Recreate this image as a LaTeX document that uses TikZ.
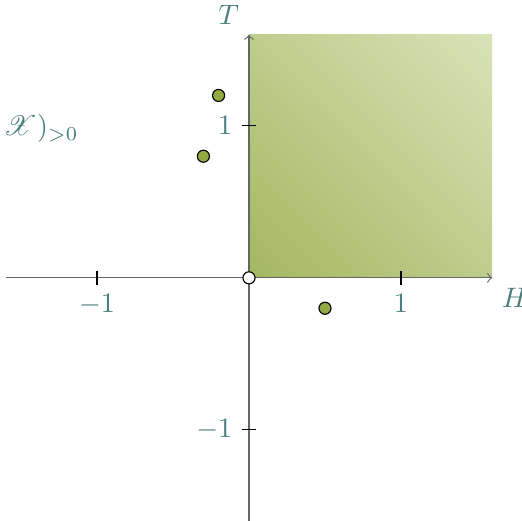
\documentclass[tikz,border=0pt]{standalone}
\usepackage{mathrsfs}
\usetikzlibrary{shadings}
\definecolor{labelteal}{RGB}{74,125,125}
\definecolor{dotgreen}{RGB}{146,168,64}
\definecolor{quaddark}{RGB}{164,183,96}
\definecolor{quadmid}{RGB}{190,205,140}
\definecolor{quadlight}{RGB}{216,226,184}
\begin{document}
\begin{tikzpicture}[>=to, x=1.9cm, y=1.9cm,
    lbl/.style={text=labelteal},
    pt/.style={circle, draw=black, fill=dotgreen, inner sep=0pt, minimum size=4.3pt}]
            \useasboundingbox (-1.638,-1.597) rectangle (1.796,1.828);
            \shade[lower left=quaddark, lower right=quadmid, upper left=quadmid, upper right=quadlight] (0,0) rectangle (1.6,1.6);
            \draw[->, black!60] (-1.6,0) -- (1.6,0) node[below right, lbl] (hlab) {$H$};
            \draw[->, black!60] (0,-1.6) -- (0,1.6) node[above left, lbl] (tlab) {$T$};
            \foreach \t in {-1,1} {
                \draw (\t,0.045) -- (\t,-0.045) node[lbl, below] {$\t$};
                \draw (0.045,\t) -- (-0.045,\t) node[lbl, left] {$\t$};
            }
            \node[pt] (p1) at (-0.2,1.2) {};
            \node[pt] (p2) at (-0.3,0.8) {};
            \node[pt] (p3) at (0.5,-0.2) {};
            \node[circle, draw=black, fill=white, inner sep=0pt, minimum size=4.3pt] (o) at (0,0) {};
            \node[lbl, anchor=west, inner xsep=1pt] (xlab) at (-1.638,0.98) {$\mathscr{X})_{>0}$};
        \end{tikzpicture}
\end{document}
